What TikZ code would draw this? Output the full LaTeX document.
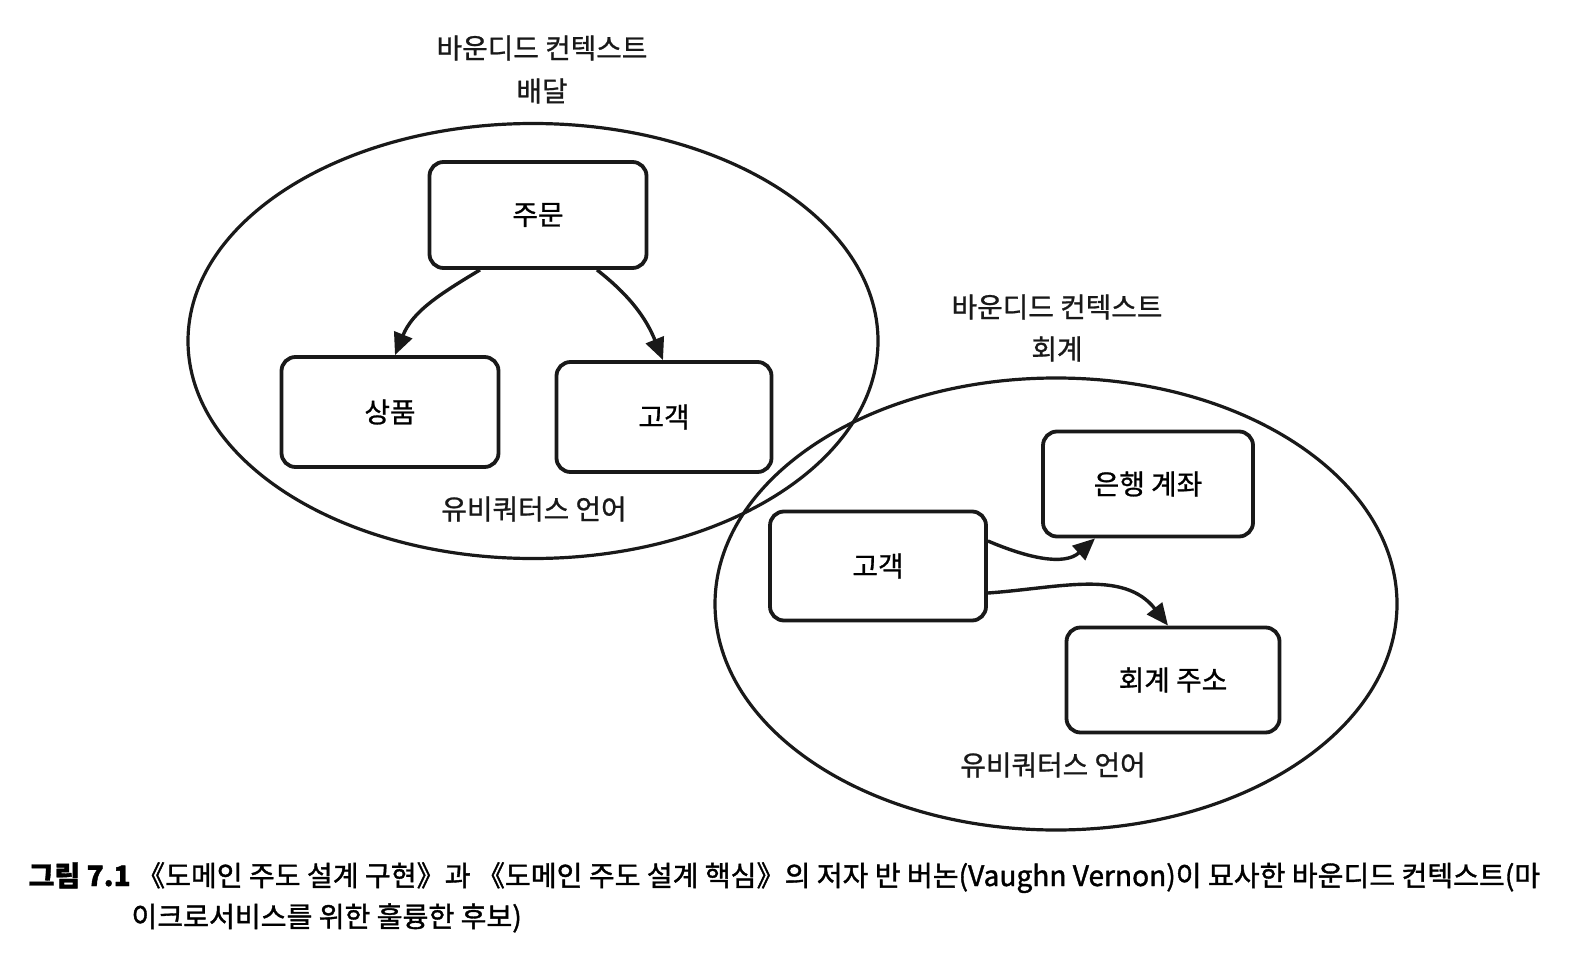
\documentclass[tikz,border=0pt]{standalone}
\usepackage{fontspec}
\setmainfont{Noto Sans CJK KR}
\newfontfamily\lblfont[FakeBold=0.9]{Noto Sans CJK KR}
\newfontfamily\capfont[FakeBold=1.3]{Noto Sans CJK KR}
\usetikzlibrary{arrows.meta,shapes.geometric}
\begin{document}
\begin{tikzpicture}[x=1pt,y=-1pt,
  ctx/.style={draw=black!90, line width=3.2pt, ellipse, inner sep=0pt},
  ent/.style={draw=black!90, line width=3.8pt, rounded corners=14pt, minimum width=#1, minimum height=108pt, inner sep=0pt, font=\lblfont\fontsize{27.8}{32}\selectfont},
  lbl/.style={font=\lblfont\fontsize{27.8}{32}\selectfont, text=black!90, inner sep=0pt},
  rel/.style={line width=3.4pt, draw=black!90, -{Triangle[length=22pt,width=19pt]}},
  captext/.style={font=\capfont\fontsize{28.1}{32}\selectfont, text=black, anchor=base west, inner sep=0pt}]
\useasboundingbox (0,0) rectangle (1584,976);
% contexts
\node[ctx, minimum width=690pt, minimum height=435pt] (e1) at (533,341) {};
\node[ctx, minimum width=682pt, minimum height=452pt] (e2) at (1056,604) {};
% titles
\node[lbl] (t1a) at (542,48) {바운디드 컨텍스트};
\node[lbl] (t1b) at (542,91) {배달};
\node[lbl] (t2a) at (1057,307) {바운디드 컨텍스트};
\node[lbl] (t2b) at (1057,349) {회계};
\node[lbl] (u1) at (534,509) {유비쿼터스 언어};
\node[lbl] (u2) at (1053,765) {유비쿼터스 언어};
% entities
\node[ent=217pt, minimum height=106pt] (order) at (538,215) {주문};
\node[ent=217pt, minimum height=110pt] (prod) at (390,412) {상품};
\node[ent=215pt, minimum height=110pt] (cust1) at (664,417) {고객};
\node[ent=210pt, minimum height=105pt] (bank) at (1148,484) {은행 계좌};
\node[ent=216pt, minimum height=109pt] (cust2) at (878,566) {고객};
\node[ent=213pt, minimum height=105pt] (addr) at (1173,680) {회계 주소};
% relations
\draw[rel] ([xshift=-58pt]order.south) to[out=211,in=68] ([xshift=5pt]prod.north);
\draw[rel] ([xshift=59pt]order.south) to[out=-38,in=112] ([xshift=-1pt]cust1.north);
\draw[rel] ([yshift=25pt]cust2.east) to[out=-23,in=222] ([xshift=-53pt]bank.south);
\draw[rel] ([yshift=-27pt]cust2.east) to[out=4,in=128] ([xshift=-5pt]addr.north);
% caption
\node[captext] (c1) at (28.3,886) {{\bfseries 그림 7.1}\ 《도메인 주도 설계 구현》과 《도메인 주도 설계 핵심》의 저자 반 버논(Vaughn Vernon)이 묘사한 바운디드 컨텍스트(마};
\node[captext] (c2) at (131.3,927) {이크로서비스를 위한 훌륭한 후보)};
\end{tikzpicture}
\end{document}
